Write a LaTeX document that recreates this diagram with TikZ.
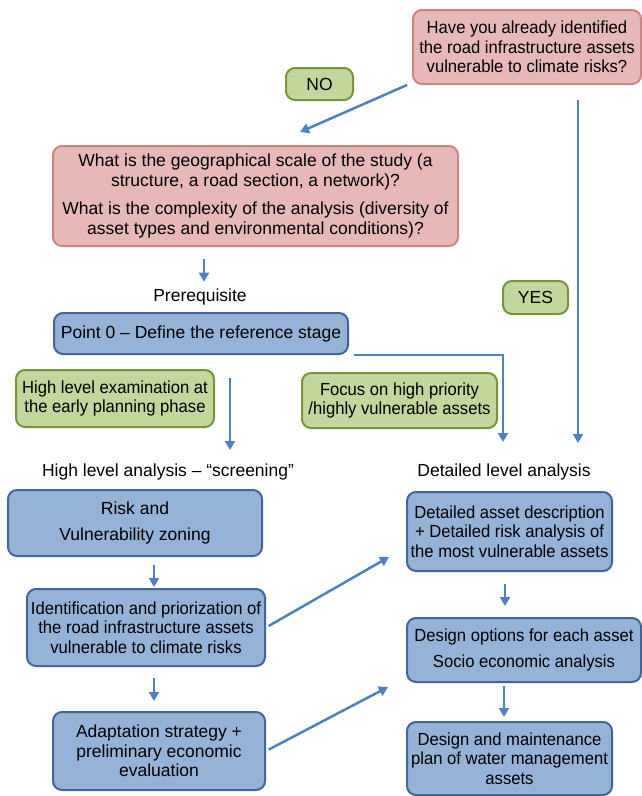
\documentclass[tikz,border=0pt]{standalone}
\usepackage{fontspec}
\setmainfont{Liberation Sans}
\newfontfamily\narrowsans{Liberation Sans}[FakeStretch=0.95]
\usetikzlibrary{arrows.meta}

\definecolor{askfill}{HTML}{E6B9B8}
\definecolor{askdraw}{HTML}{CF8381}
\definecolor{notefill}{HTML}{C3D69B}
\definecolor{notedraw}{HTML}{77933C}
\definecolor{stepfill}{HTML}{95B3D7}
\definecolor{stepdraw}{HTML}{41679A}
\definecolor{flow}{HTML}{4F81BD}

\begin{document}
\begin{tikzpicture}[
  x=1pt, y=-1pt,
  box/.style={rounded corners=9pt, line width=2pt, inner sep=2pt, align=center,
    font=\fontsize{17.5}{19.5}\selectfont},
  narrow/.style={font=\fontsize{17.5}{19.5}\narrowsans},
  question/.style={box, fill=askfill, draw=askdraw},
  answer/.style={box, fill=notefill, draw=notedraw},
  stepbox/.style={box, fill=stepfill, draw=stepdraw},
  heading/.style={inner sep=2pt, font=\fontsize{17.5}{19.5}\selectfont},
  link/.style={flow, line width=2.5pt, -{Triangle[width=10pt,length=9pt]}}
]
  \useasboundingbox (0,0) rectangle (642,796);

  % Opening question, top right, and the NO / YES answers
  \node[question, narrow, minimum width=228, minimum height=74] (identified) at (527,47)
    {Have you already identified\\the road infrastructure assets\\vulnerable to climate risks?};
  \node[answer, minimum width=67, minimum height=32] (no) at (319.5,84) {NO};
  \node[answer, minimum width=65, minimum height=33] (yes) at (535.5,297.5) {YES};

  % Scope questions and the prerequisite step
  \node[question, minimum width=405, minimum height=100] (scale) at (255.5,196)
    {What is the geographical scale of the study (a\\
     structure, a road section, a network)?\\[9pt]
     What is the complexity of the analysis (diversity of\\
     asset types and environmental conditions)?};
  \node[heading] (prereq) at (200,297) {Prerequisite};
  \node[stepbox, minimum width=294, minimum height=41] (reference) at (201,333.5)
    {Point 0 -- Define the reference stage};

  % Green notes on the two routes
  \node[answer, narrow, minimum width=198, minimum height=57] (early) at (115,398.5)
    {High level examination at\\the early planning phase};
  \node[answer, narrow, minimum width=195, minimum height=55] (focus) at (399.5,400.5)
    {Focus on high priority\\/highly vulnerable assets};

  % Column headings
  \node[heading] (screening) at (168,472) {High level analysis -- “screening”};
  \node[heading] (detailed) at (504,472) {Detailed level analysis};

  % High level column
  \node[stepbox, minimum width=254, minimum height=66] (risk) at (135,523)
    {Risk and\\[6pt]Vulnerability zoning};
  \node[stepbox, narrow, minimum width=238, minimum height=77] (ident) at (146,627.5)
    {Identification and priorization of\\the road infrastructure assets\\vulnerable to climate risks};
  \node[stepbox, minimum width=212, minimum height=78] (adapt) at (159,751)
    {Adaptation strategy +\\preliminary economic\\evaluation};

  % Detailed column
  \node[stepbox, narrow, minimum width=205, minimum height=79] (detail) at (509.5,531.5)
    {Detailed asset description\\+ Detailed risk analysis of\\the most vulnerable assets};
  \node[stepbox, narrow, minimum width=234, minimum height=64] (options) at (524,650)
    {Design options for each asset\\[6pt]Socio economic analysis};
  \node[stepbox, narrow, minimum width=205, minimum height=73] (plan) at (509.5,758.5)
    {Design and maintenance\\plan of water management\\assets};

  % Free ends of the connectors
  \coordinate (noTip) at (300,132);
  \coordinate (yesTail) at (578,100);
  \coordinate (yesTip) at (578,443);
  \coordinate (detailTip) at (503,442);
  \coordinate (screenTail) at (230,378);
  \coordinate (screenTip) at (230,450);
  \coordinate (diagTipA) at (389,557);
  \coordinate (diagTipB) at (388,687);

  % Connectors
  \draw[link] ([xshift=-5]identified.south west) -- (noTip);
  \draw[link] (yesTail) -- (yesTip);
  \draw[link, shorten <=12, shorten >=5] ([xshift=-51.5]scale.south) -- ([xshift=4]prereq.north);
  \draw[link] ([xshift=5]reference.south east) -| (detailTip);
  \draw[link] (screenTail) -- (screenTip);

  \draw[link, shorten <=8, shorten >=1] ([xshift=19]risk.south) -- ([xshift=8]ident.north);
  \draw[link, shorten <=11, shorten >=10] ([xshift=8]ident.south) -- ([xshift=-5]adapt.north);
  \draw[link, shorten <=3] (ident.east) -- (diagTipA);
  \draw[link, shorten <=3] (adapt.east) -- (diagTipB);

  \draw[link, shorten <=12, shorten >=11] ([xshift=-4.5]detail.south) -- ([xshift=-19]options.north);
  \draw[link, shorten <=3, shorten >=4] ([xshift=-20]options.south) -- ([xshift=-5.5]plan.north);

\end{tikzpicture}
\end{document}
